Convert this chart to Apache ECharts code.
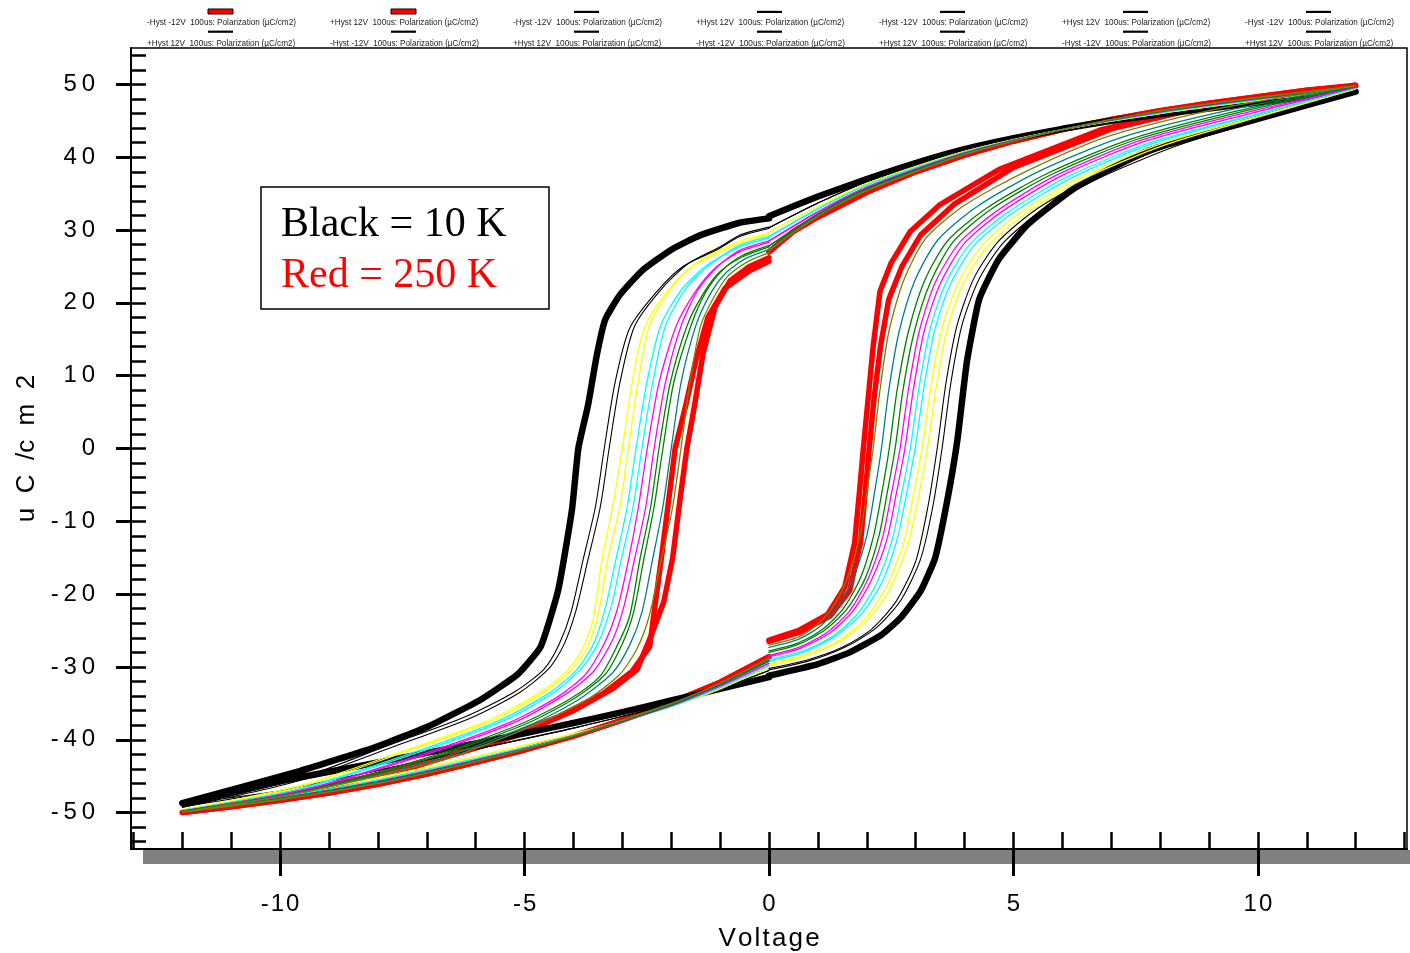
<!DOCTYPE html>
<html>
<head>
<meta charset="utf-8">
<title>Hysteresis loops</title>
<script src="https://cdn.jsdelivr.net/npm/echarts@6/dist/echarts.min.js"></script>
<style>
  html, body { margin: 0; padding: 0; background: #fff; }
  #chart { width: 1410px; height: 953px; }
</style>
</head>
<body>
<div id="chart"></div>
<script>
// ---- Axis ticks and labels ----
const xMinorTicks = [-13,-12,-11,-10,-9,-8,-7,-6,-5,-4,-3,-2,-1,0,1,2,3,4,5,6,7,8,9,10,11,12,13];
const xMajorTicks = [-10, -5, 0, 5, 10];
const yMinorTicks = [-54,-52,-50,-48,-46,-44,-42,-40,-38,-36,-34,-32,-30,-28,-26,-24,-22,-20,-18,-16,-14,-12,-10,-8,-6,-4,-2,0,2,4,6,8,10,12,14,16,18,20,22,24,26,28,30,32,34,36,38,40,42,44,46,48,50,52,54];
const yMajorTicks = [-50,-40,-30,-20,-10,0,10,20,30,40,50];

// ---- Legend entries (top strip) ----
const legendLabels = [
  '-Hyst -12V  100us: Polarization (µC/cm2)', '+Hyst 12V  100us: Polarization (µC/cm2)',
  '-Hyst -12V  100us: Polarization (µC/cm2)', '+Hyst 12V  100us: Polarization (µC/cm2)',
  '-Hyst -12V  100us: Polarization (µC/cm2)', '+Hyst 12V  100us: Polarization (µC/cm2)',
  '-Hyst -12V  100us: Polarization (µC/cm2)',
  '+Hyst 12V  100us: Polarization (µC/cm2)', '-Hyst -12V  100us: Polarization (µC/cm2)',
  '+Hyst 12V  100us: Polarization (µC/cm2)', '-Hyst -12V  100us: Polarization (µC/cm2)',
  '+Hyst 12V  100us: Polarization (µC/cm2)', '-Hyst -12V  100us: Polarization (µC/cm2)',
  '+Hyst 12V  100us: Polarization (µC/cm2)'
];
const legendIsRed = [true, true, false, false, false, false, false, false, false, false, false, false, false, false];

// ---- Polarization data: [voltage (V), polarization (uC/cm2)] ----
// "Down" = -Hyst sweep 0 -> -12 V, "DownReturn" = -12 -> 0 V
// "Up"   = +Hyst sweep 0 -> +12 V, "UpReturn"   = +12 -> 0 V

// 10 K
const k10Down = [[0,31.6],[-0.6,31.0],[-1.4,29.3],[-2.0,27.3],[-2.6,24.4],[-3.05,21.1],[-3.35,17.7],[-3.52,12.9],[-3.7,6],[-3.9,0],[-4.03,-8.4],[-4.31,-19.4],[-4.67,-27.2],[-5.14,-31],[-5.9,-34.5],[-6.95,-38.1],[-8,-40.9],[-9.6,-44.3],[-12,-48.7]];
const k10DownReturn = [[-12,-48.7],[-11,-47.2],[-10,-45.7],[-9,-44.4],[-8,-43.1],[-7,-41.8],[-6,-40.5],[-5,-39.1],[-4,-37.7],[-3,-36.2],[-2,-34.6],[-1,-33],[0,-31.4]];
const k10Up = [[0,-31.2],[1,-29.6],[1.65,-28],[2.3,-25.6],[2.7,-23.2],[3.1,-19.6],[3.4,-15],[3.65,-7],[3.85,1],[4.05,12],[4.3,20.5],[4.7,26],[5.3,30.8],[6.3,36],[7.8,41],[9.8,44.9],[12,49]];
const k10UpReturn = [[12,49],[11,48.3],[10,47.5],[9,46.7],[8,45.9],[7,45],[6,43.9],[5,42.6],[4,41.1],[3,39.2],[2,37],[1,34.6],[0,31.9]];

// thin black
const tbDownA = [[0,30.2],[-0.6,29.1],[-1.06,27.3],[-1.76,25],[-2.3,21.5],[-2.85,16.5],[-3.15,9],[-3.37,0],[-3.55,-8],[-3.8,-15.2],[-4.05,-22.5],[-4.3,-27],[-4.6,-30.3],[-5.2,-33.4],[-6.2,-36.8],[-7.8,-40.8],[-9.6,-45.3],[-12,-49.2]];
const tbDownB = [[0,30.4],[-0.6,29.3],[-1.0,27.7],[-1.65,25.4],[-2.2,21.9],[-2.75,16.8],[-3.05,9],[-3.27,0],[-3.45,-8],[-3.7,-15.2],[-3.95,-22.3],[-4.2,-27],[-4.5,-30.2],[-5.1,-33.5],[-6.1,-37],[-7.7,-41],[-9.6,-45.6],[-12,-49.3]];
const tbDownReturn = [[-12,-49.2],[-10,-47],[-8,-44.2],[-6,-41.3],[-4,-38.4],[-2,-35.1],[-1,-33],[0,-30.5]];
const tbUpA = [[0,-30.2],[0.8,-29],[1.5,-27.3],[2.1,-24.8],[2.6,-21],[3.0,-15.5],[3.25,-8],[3.44,0],[3.62,9],[3.85,17],[4.2,23.5],[4.7,28.5],[5.5,33],[6.7,37.5],[8.3,41.8],[10,45.2],[12,49.2]];
const tbUpB = [[0,-30.4],[0.8,-29.2],[1.55,-27.3],[2.2,-24.6],[2.7,-20.8],[3.1,-15.2],[3.35,-8],[3.54,0],[3.72,9],[3.95,17],[4.3,23.3],[4.8,28.3],[5.6,32.8],[6.8,37.3],[8.4,41.7],[10,45],[12,49.2]];
const tbUpReturn = [[12,49.2],[10,47.6],[8,45.9],[6,43.8],[4,40.9],[2,36.6],[1,33.7],[0,30.3]];

// yellow
const yeDownA = [[0,29.4],[-0.65,28.0],[-1.6,24.9],[-2.1,21.4],[-2.55,16.5],[-2.8,9],[-3.0,0],[-3.2,-8],[-3.42,-15.5],[-3.6,-23.5],[-3.85,-28],[-4.2,-31],[-4.8,-34],[-5.8,-37.5],[-7.5,-41.6],[-9.6,-46.3],[-12,-49.6]];
const yeDownB = [[0,29.6],[-0.65,28.3],[-1.5,25.4],[-2.0,22],[-2.45,16.8],[-2.68,9],[-2.88,0],[-3.05,-8],[-3.3,-15.2],[-3.5,-23],[-3.75,-27.8],[-4.1,-30.8],[-4.7,-33.9],[-5.7,-37.5],[-7.5,-41.8],[-9.6,-46.5],[-12,-49.6]];
const yeDownReturn = [[-12,-49.6],[-10,-47.7],[-8,-45.2],[-6,-42.3],[-4,-39.2],[-2,-35.4],[-1,-33],[0,-30]];
const yeUpA = [[0,-29.6],[0.7,-28.4],[1.4,-26.5],[1.95,-23.5],[2.4,-19],[2.75,-13],[2.95,-6.5],[3.13,0],[3.3,8],[3.52,16],[3.85,22.5],[4.35,27.8],[5.1,32.2],[6.3,37],[8,41.8],[10,45.6],[12,49.4]];
const yeUpB = [[0,-29.8],[0.7,-28.6],[1.45,-26.5],[2.05,-23.3],[2.5,-19],[2.85,-13],[3.06,-6.5],[3.24,0],[3.41,8],[3.63,16],[3.95,22.3],[4.45,27.6],[5.2,32],[6.4,36.9],[8.1,41.7],[10,45.5],[12,49.4]];
const yeUpReturn = [[12,49.4],[10,47.8],[8,46],[6,43.8],[4,40.8],[2,36.4],[1,33.2],[0,29.7]];

// cyan
const cyDownA = [[0,28.9],[-0.6,27.7],[-1.3,25],[-1.8,21.7],[-2.22,16.8],[-2.5,9],[-2.72,0],[-2.9,-8],[-3.13,-15.2],[-3.35,-22],[-3.6,-27],[-3.95,-30.5],[-4.5,-33.6],[-5.5,-37.3],[-7.3,-41.8],[-9.6,-46.7],[-12,-49.7]];
const cyDownB = [[0,29.1],[-0.6,27.9],[-1.2,25.3],[-1.7,22],[-2.12,16.8],[-2.38,9],[-2.6,0],[-2.78,-8],[-3.02,-15.2],[-3.22,-21.5],[-3.5,-26.8],[-3.85,-30.3],[-4.4,-33.5],[-5.4,-37.3],[-7.2,-41.8],[-9.6,-46.8],[-12,-49.7]];
const cyDownReturn = [[-12,-49.7],[-10,-47.9],[-8,-45.5],[-6,-42.6],[-4,-39.4],[-2,-35.4],[-1,-32.8],[0,-29.8]];
const cyUpA = [[0,-29],[0.7,-27.8],[1.3,-25.8],[1.8,-22.8],[2.2,-18.5],[2.52,-12.5],[2.72,-6],[2.89,0],[3.06,8],[3.28,16],[3.6,22.5],[4.1,28],[4.9,32.5],[6.1,37.3],[7.8,42],[10,46],[12,49.5]];
const cyUpB = [[0,-29.2],[0.7,-28],[1.35,-25.8],[1.88,-22.8],[2.3,-18.5],[2.62,-12.5],[2.82,-6],[2.99,0],[3.16,8],[3.38,16],[3.7,22.4],[4.2,27.9],[5,32.4],[6.2,37.2],[7.9,42],[10,45.9],[12,49.5]];
const cyUpReturn = [[12,49.5],[10,47.9],[8,46.1],[6,43.8],[4,40.7],[2,36.2],[1,32.9],[0,29.1]];

// magenta
const mgDownA = [[0,28.3],[-0.6,27],[-1.1,24.8],[-1.5,21.6],[-1.9,16.8],[-2.25,9],[-2.49,0],[-2.67,-8],[-2.87,-15.2],[-3.1,-22],[-3.35,-26.5],[-3.75,-31],[-4.3,-34],[-5.3,-37.6],[-7.2,-42.2],[-9.6,-47],[-12,-49.8]];
const mgDownB = [[0,28.5],[-0.6,27.2],[-1.05,25],[-1.45,21.8],[-1.8,16.8],[-2.12,9],[-2.35,0],[-2.52,-8],[-2.75,-15.2],[-2.98,-22],[-3.2,-26.3],[-3.6,-30.7],[-4.2,-33.9],[-5.2,-37.6],[-7.1,-42.2],[-9.6,-47],[-12,-49.8]];
const mgDownReturn = [[-12,-49.8],[-10,-48],[-8,-45.7],[-6,-42.8],[-4,-39.5],[-2,-35.3],[-1,-32.6],[0,-29.5]];
const mgUpA = [[0,-28.4],[0.65,-27.2],[1.2,-25.2],[1.65,-22.3],[2.02,-18],[2.32,-12.3],[2.51,-6],[2.68,0],[2.85,8],[3.07,16],[3.4,22.8],[3.9,28.3],[4.7,32.8],[5.9,37.6],[7.6,42.3],[9.8,46.2],[12,49.6]];
const mgUpB = [[0,-28.6],[0.65,-27.4],[1.25,-25.3],[1.72,-22.3],[2.1,-18],[2.42,-12.3],[2.61,-6],[2.78,0],[2.95,8],[3.17,16],[3.5,22.6],[4,28.2],[4.8,32.7],[6,37.5],[7.7,42.2],[9.9,46.1],[12,49.6]];
const mgUpReturn = [[12,49.6],[10,48],[8,46.2],[6,43.8],[4,40.6],[2,35.9],[1,32.5],[0,28.5]];

// green
const grDownA = [[0,27.7],[-0.55,26.3],[-1.0,24.3],[-1.35,21.2],[-1.68,16.8],[-2.02,9],[-2.25,0],[-2.42,-8],[-2.64,-15.2],[-2.85,-23],[-3.1,-27],[-3.46,-31.3],[-4.1,-34.5],[-5.1,-37.9],[-7,-42.5],[-9.6,-47.2],[-12,-49.8]];
const grDownB = [[0,27.9],[-0.55,26.5],[-0.95,24.5],[-1.3,21.4],[-1.6,16.8],[-1.95,9],[-2.17,0],[-2.35,-8],[-2.56,-15.2],[-2.77,-22.5],[-3.0,-26.8],[-3.35,-31],[-4.0,-34.4],[-5.0,-37.9],[-6.9,-42.5],[-9.6,-47.2],[-12,-49.8]];
const grDownReturn = [[-12,-49.8],[-10,-48.1],[-8,-45.8],[-6,-42.9],[-4,-39.5],[-2,-35.2],[-1,-32.4],[0,-29.2]];
const grUpA = [[0,-27.8],[0.6,-26.7],[1.1,-24.8],[1.52,-22],[1.87,-17.8],[2.14,-12],[2.31,-6],[2.46,0],[2.62,8],[2.85,16],[3.18,23],[3.65,28.5],[4.45,33],[5.7,37.8],[7.4,42.5],[9.6,46.4],[12,49.7]];
const grUpB = [[0,-28],[0.6,-26.9],[1.15,-24.9],[1.6,-22],[1.97,-17.8],[2.25,-12],[2.42,-6],[2.58,0],[2.74,8],[2.97,16],[3.3,22.8],[3.77,28.4],[4.55,32.9],[5.8,37.7],[7.5,42.4],[9.7,46.3],[12,49.7]];
const grUpReturn = [[12,49.7],[10,48.1],[8,46.3],[6,43.8],[4,40.5],[2,35.7],[1,32.2],[0,27.8]];

// teal
const tlDown = [[0,27.3],[-0.5,26],[-0.9,24],[-1.22,21],[-1.5,16.8],[-1.8,9],[-2.0,0],[-2.17,-8],[-2.38,-15.2],[-2.6,-22.5],[-2.85,-27],[-3.2,-30.8],[-3.9,-34.5],[-4.9,-38],[-6.8,-42.7],[-9.6,-47.3],[-12,-49.9]];
const tlDownReturn = [[-12,-49.9],[-10,-48.2],[-8,-45.9],[-6,-43],[-4,-39.5],[-2,-35.1],[-1,-32.3],[0,-29]];
const tlUp = [[0,-27.3],[0.6,-26.2],[1.05,-24.4],[1.42,-21.6],[1.74,-17.5],[2.0,-12],[2.16,-6],[2.3,0],[2.45,8],[2.66,16],[2.98,23],[3.45,28.6],[4.25,33.2],[5.5,38],[7.2,42.7],[9.5,46.6],[12,49.8]];
const tlUpReturn = [[12,49.8],[10,48.2],[8,46.3],[6,43.8],[4,40.4],[2,35.5],[1,32],[0,27.4]];

// olive
const olDown = [[0,26.9],[-0.45,25.6],[-0.85,23.6],[-1.15,20.5],[-1.4,16.8],[-1.62,9],[-1.8,0],[-1.97,-8],[-2.2,-15.2],[-2.45,-23],[-2.7,-27.5],[-3.05,-31],[-3.7,-34.4],[-4.8,-38],[-6.7,-42.8],[-9.6,-47.3],[-12,-49.9]];
const olDownReturn = [[-12,-49.9],[-10,-48.2],[-8,-46],[-6,-43],[-4,-39.4],[-2,-35],[-1,-32.2],[0,-28.8]];
const olUp = [[0,-27],[0.6,-25.9],[1.0,-24.1],[1.35,-21.3],[1.63,-17.3],[1.86,-12],[2.0,-6],[2.13,0],[2.27,8],[2.45,16],[2.75,23],[3.2,28.8],[4,33.4],[5.3,38.2],[7,43],[9.3,46.8],[12,49.8]];
const olUpReturn = [[12,49.8],[10,48.2],[8,46.4],[6,43.8],[4,40.4],[2,35.4],[1,31.9],[0,27.2]];

// 250 K
const k250DownA = [[0,25.7],[-0.4,24.4],[-0.9,22],[-1.25,18],[-1.5,12],[-1.7,6],[-1.92,0],[-2.05,-7],[-2.2,-15],[-2.32,-21],[-2.44,-27.2],[-2.8,-30.6],[-3.4,-33.7],[-4.3,-36.8],[-5.5,-40],[-7.5,-44],[-9.6,-47.3],[-12,-50]];
const k250DownB = [[0,26.2],[-0.4,25],[-0.8,23],[-1.1,19.5],[-1.35,13],[-1.52,6],[-1.68,0],[-1.82,-7],[-1.97,-15],[-2.15,-21],[-2.4,-25.5],[-2.7,-30.4],[-3.2,-33],[-4,-36],[-5.2,-39.5],[-7.2,-43.6],[-9.6,-47.3],[-12,-50]];
const k250DownReturn = [[-12,-50],[-11,-49.2],[-10,-48.3],[-9,-47.3],[-8,-46.1],[-7,-44.7],[-6,-43.1],[-5,-41.4],[-4,-39.5],[-3,-37.3],[-2,-34.9],[-1,-32.1],[0,-28.6]];
const k250UpA = [[0,-26.3],[0.6,-25],[1.2,-22.8],[1.55,-19],[1.75,-13],[1.85,-6],[1.93,0],[2.03,7],[2.13,14],[2.27,21.6],[2.5,25.5],[2.89,29.8],[3.5,33.5],[4.7,38.3],[6.8,43.8],[8.8,47],[12,49.9]];
const k250UpB = [[0,-26.5],[0.6,-25.3],[1.25,-23],[1.65,-19.5],[1.87,-13],[1.97,-6],[2.05,0],[2.15,7],[2.28,14],[2.45,20.5],[2.72,25],[3.1,29.3],[3.8,33.6],[5,38.6],[7,43.9],[9,47.1],[12,49.8]];
const k250UpReturn = [[12,50],[11,49.2],[10,48.3],[9,47.4],[8,46.4],[7,45.2],[6,43.8],[5,42.2],[4,40.3],[3,38],[2,35.2],[1,31.8],[0.5,29.8],[0,27]];

// ---- Curve styling: drawn in this order ----
const curveSets = [
  { color: '#ff0000', width: 5.5, smooth: 0, downs: [k250DownA, k250DownB], downReturn: k250DownReturn, ups: [k250UpA, k250UpB], upReturn: k250UpReturn },
  { color: '#000000', width: 6.5, smooth: 0.15, downs: [k10Down], downReturn: k10DownReturn, ups: [k10Up], upReturn: k10UpReturn },
  { color: '#000000', width: 1.1, smooth: 0.25, downs: [tbDownA, tbDownB], downReturn: tbDownReturn, ups: [tbUpA, tbUpB], upReturn: tbUpReturn },
  { color: '#ffff00', width: 1.3, smooth: 0.25, downs: [yeDownA, yeDownB], downReturn: yeDownReturn, ups: [yeUpA, yeUpB], upReturn: yeUpReturn },
  { color: '#00ffff', width: 1.3, smooth: 0.25, downs: [cyDownA, cyDownB], downReturn: cyDownReturn, ups: [cyUpA, cyUpB], upReturn: cyUpReturn },
  { color: '#ff00ff', width: 1.3, smooth: 0.25, downs: [mgDownA, mgDownB], downReturn: mgDownReturn, ups: [mgUpA, mgUpB], upReturn: mgUpReturn },
  { color: '#008000', width: 1.3, smooth: 0.25, downs: [grDownA, grDownB], downReturn: grDownReturn, ups: [grUpA, grUpB], upReturn: grUpReturn },
  { color: '#008080', width: 1.3, smooth: 0.25, downs: [tlDown], downReturn: tlDownReturn, ups: [tlUp], upReturn: tlUpReturn },
  { color: '#808000', width: 1.3, smooth: 0.25, downs: [olDown], downReturn: olDownReturn, ups: [olUp], upReturn: olUpReturn }
];

const series = [];
function addBranch(name, set, pts) {
  series.push({
    name: name,
    type: 'line',
    xAxisIndex: 0,
    yAxisIndex: 0,
    data: pts,
    showSymbol: false,
    symbol: 'none',
    smooth: set.smooth,
    silent: true,
    lineStyle: { color: set.color, width: set.width, cap: 'round', join: 'round' },
    z: 2
  });
}
curveSets.forEach(function (set) {
  set.downs.forEach(function (d) { addBranch('-Hyst -12V  100us: Polarization (µC/cm2)', set, d.concat(set.downReturn)); });
  set.ups.forEach(function (u) { addBranch('+Hyst 12V  100us: Polarization (µC/cm2)', set, u.concat(set.upReturn)); });
});

// ---- Decorations: legend strip, annotation box, grey band ----
const spacedThin = function (v) { return String(v).split('').join('\u2009'); };
const spacedHair = function (v) { return String(v).split('').join('\u200A'); };
const graphics = [];
legendLabels.forEach(function (label, i) {
  const col = i % 7, row = Math.floor(i / 7);
  const x0 = 147 + col * 183;
  graphics.push({
    type: 'text', silent: true, z: 10,
    style: { text: label, x: x0, y: row === 0 ? 23 : 43.5, fill: '#222', font: '8.2px "Liberation Sans", Arial, sans-serif', textVerticalAlign: 'middle', verticalAlign: 'middle' }
  });
  if (legendIsRed[i]) {
    graphics.push({ type: 'rect', silent: true, z: 10, shape: { x: x0 + 61, y: 9, width: 25, height: 5 }, style: { fill: '#ff0000', stroke: '#000', lineWidth: 1 } });
  } else {
    graphics.push({ type: 'rect', silent: true, z: 10, shape: { x: x0 + 61, y: row === 0 ? 10.8 : 30.6, width: 25, height: 2.2 }, style: { fill: '#000' } });
  }
});
graphics.push({ type: 'rect', silent: true, z: 0, shape: { x: 143, y: 850, width: 1267, height: 14 }, style: { fill: '#808080' } });
graphics.push({ type: 'rect', silent: true, z: 20, shape: { x: 261, y: 187, width: 288, height: 122 }, style: { fill: '#fff', stroke: '#000', lineWidth: 1.5 } });
graphics.push({ type: 'text', silent: true, z: 21, style: { text: 'Black = 10 K', x: 281, y: 225, fill: '#000', font: '42px "Liberation Serif", "Times New Roman", serif', textVerticalAlign: 'middle', verticalAlign: 'middle' } });
graphics.push({ type: 'text', silent: true, z: 21, style: { text: 'Red = 250 K', x: 281, y: 276, fill: '#ff0000', font: '42px "Liberation Serif", "Times New Roman", serif', textVerticalAlign: 'middle', verticalAlign: 'middle' } });

const axisFont = '"Liberation Sans", Arial, sans-serif';
const X_MIN = -13.05, X_MAX = 13.05, Y_MIN = -55, Y_MAX = 55;

const option = {
  animation: false,
  backgroundColor: '#fff',
  grid: { left: 131, right: 3, top: 48, bottom: 104, outerBoundsMode: 'none', containLabel: false, show: true, borderColor: '#000', borderWidth: 1.5, backgroundColor: 'transparent' },
  xAxis: [
    {
      type: 'value', min: X_MIN, max: X_MAX, position: 'bottom', z: 5,
      axisLine: { show: true, onZero: false, lineStyle: { color: '#000', width: 2 } },
      axisTick: { show: true, inside: true, length: 17, customValues: xMinorTicks, lineStyle: { color: '#000', width: 2.5 } },
      axisLabel: { show: false },
      splitLine: { show: false }
    },
    {
      type: 'value', min: X_MIN, max: X_MAX, position: 'bottom', z: 5,
      axisLine: { show: false, onZero: false },
      axisTick: { show: true, inside: false, length: 27, customValues: xMajorTicks, lineStyle: { color: '#000', width: 3 } },
      axisLabel: { show: true, customValues: xMajorTicks, formatter: spacedHair, color: '#000', fontSize: 24, fontFamily: axisFont, margin: 43 },
      splitLine: { show: false },
      name: 'V\u200Ao\u200Al\u200At\u200Aa\u200Ag\u200Ae', nameLocation: 'middle', nameGap: 77,
      nameTextStyle: { color: '#000', fontSize: 26, fontFamily: axisFont }
    }
  ],
  yAxis: [
    {
      type: 'value', min: Y_MIN, max: Y_MAX, position: 'left', z: 5,
      axisLine: { show: true, onZero: false, lineStyle: { color: '#000', width: 2 } },
      axisTick: { show: true, inside: true, length: 15, customValues: yMinorTicks, lineStyle: { color: '#000', width: 2.5 } },
      axisLabel: { show: false },
      splitLine: { show: false }
    },
    {
      type: 'value', min: Y_MIN, max: Y_MAX, position: 'left', z: 5,
      axisLine: { show: false, onZero: false },
      axisTick: { show: true, inside: false, length: 15, customValues: yMajorTicks, lineStyle: { color: '#000', width: 3 } },
      axisLabel: { show: true, customValues: yMajorTicks, formatter: spacedThin, color: '#000', fontSize: 24, fontFamily: axisFont, margin: 36 },
      splitLine: { show: false },
      name: 'u  C  /c  m  2', nameLocation: 'middle', nameGap: 90, nameRotate: 90,
      nameTextStyle: { color: '#000', fontSize: 26, fontFamily: axisFont }
    }
  ],
  graphic: graphics,
  series: series
};

const chart = echarts.init(document.getElementById('chart'), null, { renderer: 'canvas' });
chart.setOption(option);
</script>
</body>
</html>
